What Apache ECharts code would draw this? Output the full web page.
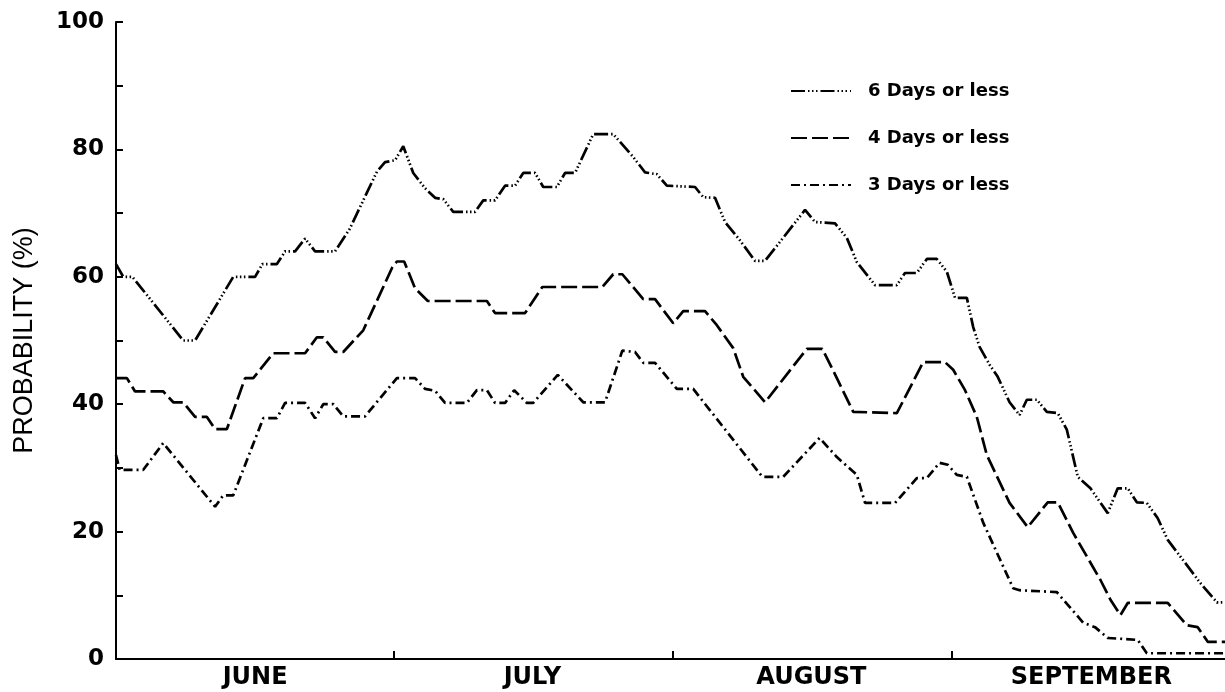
<!DOCTYPE html>
<html>
<head>
<meta charset="utf-8">
<title>Probability</title>
<script src="https://cdn.jsdelivr.net/npm/echarts@6/dist/echarts.min.js"></script>
<style>
	html, body { margin: 0; padding: 0; background: #fff; }
	#main { width: 1225px; height: 692px; }
</style>
</head>
<body>
<div id="main"></div>
<script>
// x = 从6月1日起的天数, y = 概率(%)
var months = ['JUNE', 'JULY', 'AUGUST', 'SEPTEMBER'];
var monthMid = [15.3, 45.8, 76.5, 107.3]; //月份标签位置
var monthEdge = [30.5, 61.2, 91.9]; //月份分界刻度

var sixDays = [[0,62],[0.8,60],[1.8,60],[7.4,50],[8.7,50],[12.9,60],[15.3,60],[16.1,62],[17.7,62],
	[18.6,64],[19.7,64],[20.8,66],[21.9,64],[24.1,64],[25.7,67.5],[28.7,76.5],[29.6,78],[30.7,78.3],
	[31.6,80.5],[32.7,76.3],[34.0,73.9],[35.1,72.4],[36.0,72.2],[37.1,70.2],[39.5,70.2],[40.4,72],
	[41.7,72],[42.8,74.3],[43.9,74.3],[44.8,76.3],[46.1,76.3],[47.0,74.1],[48.5,74.1],[49.4,76.3],
	[50.5,76.3],[52.5,82.4],[54.7,82.4],[56.9,78.8],[58.2,76.4],[59.5,76.1],[60.6,74.3],[63.7,74.1],
	[64.6,72.5],[65.9,72.4],[67.0,68.6],[68.6,65.8],[70.3,62.5],[71.4,62.5],[75.8,70.5],[76.9,68.6],
	[79.1,68.4],[80.4,66.1],[81.5,62.3],[83.5,58.7],[85.9,58.7],[86.8,60.6],[88.1,60.6],[89.2,62.8],
	[90.3,62.8],[91.4,60.8],[92.3,56.7],[93.6,56.7],[94.3,52.1],[95.0,49],[96.1,46.2],[97.0,44.3],
	[98.3,40.3],[99.4,38.3],[100.2,40.7],[101.3,40.7],[102.4,38.8],[103.6,38.6],[104.6,36],[105.8,28.6],
	[107.2,26.8],[109.1,22.9],[110.2,26.8],[111.3,26.8],[112.3,24.6],[113.4,24.5],[114.6,22.1],
	[115.7,18.7],[117.4,15.5],[119.3,11.9],[121.1,8.9],[122,8.9]];

var fourDays = [[0,44.1],[1.2,44.1],[2.1,42],[5.2,42],[6.3,40.3],[7.4,40.3],[8.7,38],[10.0,38],
	[10.9,36.1],[12.2,36.1],[14.2,44.1],[15.1,44.1],[17.3,48],[20.8,48],[22.1,50.5],[22.8,50.5],
	[24.1,48.2],[25.0,48.2],[27.2,51.6],[29.4,58.4],[30.4,61.5],[30.9,62.4],[31.7,62.4],[32.9,58.2],
	[34.3,56.2],[40.8,56.2],[41.7,54.3],[45.0,54.3],[46.9,58.4],[53.5,58.4],[54.7,60.4],[55.7,60.4],
	[58.0,56.5],[59.3,56.5],[61.3,52.7],[62.4,54.6],[64.8,54.6],[66.1,52.4],[67.9,48.8],[69.0,44.3],
	[71.4,40.3],[76.0,48.7],[77.7,48.7],[79.3,44.1],[81.1,38.8],[85.9,38.6],[88.8,46.6],[91.2,46.6],
	[92.1,45.4],[93.4,42.2],[94.7,38],[95.8,32],[98.3,24.5],[100.3,20.7],[102.5,24.6],[103.6,24.6],
	[105.3,19.8],[108.3,12.4],[109.4,9.3],[110.5,6.9],[111.3,8.8],[115.7,8.8],[117.8,5.3],[119.0,5],
	[120.1,2.7],[122,2.7]];

var threeDays = [[0,32],[0.4,29.7],[3.0,29.7],[5.2,33.9],[10.9,23.9],[11.8,25.7],[12.9,25.7],
	[16.2,37.8],[17.7,37.8],[18.6,40.2],[20.8,40.2],[21.9,37.8],[22.8,40],[23.9,40],[25.0,38.1],
	[27.4,38.1],[30.9,44.1],[32.9,44.1],[34.0,42.4],[35.1,42.1],[36.2,40.2],[38.6,40.2],[39.7,42.2],
	[40.8,42.2],[41.7,40.2],[42.8,40.2],[43.8,42.2],[45.2,40.2],[45.9,40.2],[48.6,44.6],[51.4,40.3],
	[53.8,40.3],[55.7,48.4],[57.1,48.2],[58.0,46.5],[59.3,46.5],[61.7,42.4],[63.5,42.4],[71.1,28.6],
	[73.4,28.6],[77.4,34.7],[79.3,31.7],[81.5,28.9],[82.4,24.5],[85.7,24.5],[88.1,28.4],[89.2,28.4],
	[90.6,30.8],[91.5,30.5],[92.5,28.9],[93.6,28.6],[95.4,21.4],[98.7,11.1],[99.4,10.8],[103.5,10.5],
	[106.4,5.7],[107.7,5],[109.1,3.3],[112.4,3],[113.4,0.9],[122,0.9]];

var seriesNames = ['6 Days or less', '4 Days or less', '3 Days or less'];

var myChart = echarts.init(document.getElementById('main'));

function lineSerie(name, data, dash) {
	return {
		name: name,
		type: 'line',
		data: data,
		symbol: 'none',
		itemStyle: { color: '#000' },
		lineStyle: { color: '#000', width: 2.7, type: dash, cap: 'butt' }
	};
}

option = {
	animation: false,
	backgroundColor: '#fff',
	grid: { left: 116, right: 0, top: 22, bottom: 33 },
	legend: {
		orient: 'vertical',
		left: 785,
		top: 77,
		itemWidth: 60,
		itemHeight: 17,
		itemGap: 29,
		selectedMode: false,
		data: seriesNames,
		itemStyle: { opacity: 0 },
		textStyle: {
			fontFamily: 'DejaVu Sans',
			fontWeight: 'bold',
			fontSize: 18,
			color: '#000',
			padding: [0, 0, 0, 12]
		}
	},
	xAxis: {
		type: 'value',
		min: 0,
		max: 122,
		splitLine: { show: false },
		axisLine: { lineStyle: { color: '#000', width: 2 } },
		axisTick: {
			inside: true,
			length: 8,
			lineStyle: { color: '#000', width: 2 },
			customValues: monthEdge
		},
		axisLabel: {
			customValues: monthMid,
			margin: 7,
			color: '#000',
			fontFamily: 'DejaVu Sans',
			fontWeight: 'bold',
			fontSize: 24,
			formatter: function(v) {
				var best = 0;
				for (var i = 0; i < monthMid.length; i++) {
					if (Math.abs(monthMid[i] - v) < Math.abs(monthMid[best] - v)) best = i;
				}
				return months[best];
			}
		}
	},
	yAxis: {
		type: 'value',
		min: 0,
		max: 100,
		interval: 10,
		name: 'PROBABILITY (%)',
		nameLocation: 'middle',
		nameGap: 78,
		nameTextStyle: {
			fontFamily: 'Liberation Sans',
			fontSize: 27,
			color: '#000'
		},
		splitLine: { show: false },
		axisLine: { show: true, lineStyle: { color: '#000', width: 2 } },
		axisTick: { show: true, inside: true, length: 7, lineStyle: { color: '#000', width: 2 } },
		axisLabel: {
			margin: 12,
			color: '#000',
			fontFamily: 'DejaVu Sans',
			fontWeight: 'bold',
			fontSize: 23,
			formatter: function(v) { return v % 20 === 0 ? String(v) : ''; }
		}
	},
	series: [
		lineSerie(seriesNames[0], sixDays, [14, 3, 1.5, 2.5, 1.5, 2.5, 1.5, 3]),
		lineSerie(seriesNames[1], fourDays, [16, 5]),
		lineSerie(seriesNames[2], threeDays, [9, 4, 2, 4])
	]
};

myChart.setOption(option);
</script>
</body>
</html>
